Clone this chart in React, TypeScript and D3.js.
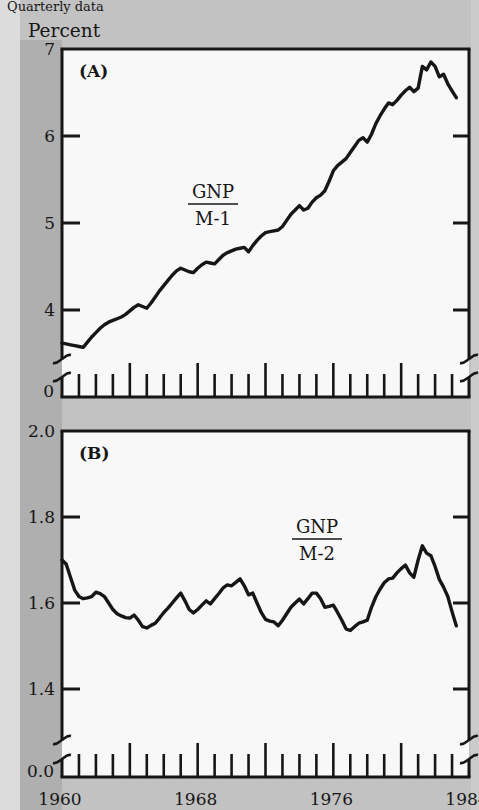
import React, { useEffect, useRef } from 'react';
import * as d3 from 'd3';

const width = 479;
const height = 810;

// quarterly observations, first one is 1960 Q1
const startYear = 1960;
const yearLabels = [1960, 1968, 1976, 1984];
const m1Ticks = [4, 5, 6, 7];
const m2Ticks = [1.4, 1.6, 1.8, 2.0];

// GNP / M-1
const m1Ratio = [
  3.62, 3.61, 3.60, 3.59,
  3.58, 3.57, 3.63, 3.69,
  3.74, 3.79, 3.83, 3.86,
  3.88, 3.90, 3.92, 3.95,
  3.99, 4.03, 4.06, 4.04,
  4.02, 4.08, 4.15, 4.22,
  4.28, 4.34, 4.40, 4.45,
  4.48, 4.46, 4.44, 4.43,
  4.48, 4.52, 4.55, 4.54,
  4.53, 4.58, 4.63, 4.66,
  4.68, 4.70, 4.71, 4.72,
  4.67, 4.74, 4.80, 4.85,
  4.89, 4.90, 4.91, 4.92,
  4.96, 5.03, 5.10, 5.15,
  5.20, 5.15, 5.17, 5.24,
  5.29, 5.32, 5.37, 5.48,
  5.60, 5.66, 5.70, 5.74,
  5.81, 5.88, 5.95, 5.98,
  5.93, 6.02, 6.14, 6.23,
  6.31, 6.38, 6.36, 6.41,
  6.47, 6.52, 6.56, 6.51,
  6.55, 6.80, 6.76, 6.85,
  6.80, 6.68, 6.71, 6.60,
  6.52, 6.44,
];

// GNP / M-2
const m2Ratio = [
  1.700, 1.690, 1.660, 1.630,
  1.615, 1.610, 1.612, 1.615,
  1.625, 1.622, 1.615, 1.600,
  1.585, 1.575, 1.570, 1.566,
  1.565, 1.572, 1.560, 1.545,
  1.542, 1.548, 1.553, 1.565,
  1.578, 1.588, 1.600, 1.612,
  1.623, 1.605, 1.585, 1.577,
  1.585, 1.595, 1.605, 1.598,
  1.610, 1.622, 1.635, 1.642,
  1.640, 1.648, 1.656, 1.640,
  1.619, 1.623, 1.600, 1.578,
  1.562, 1.558, 1.556, 1.547,
  1.560, 1.575, 1.590, 1.600,
  1.609, 1.598, 1.610, 1.623,
  1.623, 1.610, 1.590, 1.592,
  1.595, 1.578, 1.560, 1.540,
  1.536, 1.545, 1.553, 1.556,
  1.560, 1.590, 1.614, 1.632,
  1.647, 1.656, 1.658, 1.670,
  1.680, 1.688, 1.670, 1.660,
  1.700, 1.733, 1.716, 1.710,
  1.685, 1.655, 1.637, 1.615,
  1.580, 1.547,
];

const font = '"DejaVu Serif", serif';
const ink = '#161616';
const left = 62;
const right = 469;

export default function App() {
  const ref = useRef<SVGSVGElement>(null);

  useEffect(() => {
    const svg = d3.select(ref.current);
    svg.selectAll('*').remove();

    // scanned page background
    svg.append('rect').attr('width', width).attr('height', height).attr('fill', '#c2c2c2');
    svg.append('rect').attr('x', 0).attr('y', 0).attr('width', 20).attr('height', height).attr('fill', '#dcdcdc');
    svg.append('rect').attr('x', 20).attr('y', 40).attr('width', left - 20).attr('height', height - 40).attr('fill', '#afafaf');
    svg.append('rect').attr('x', right + 2).attr('y', 0).attr('width', width - right).attr('height', height).attr('fill', '#cbcbcb');

    // heading at the very top of the page
    svg.append('text')
      .attr('x', 7).attr('y', 11)
      .attr('font-family', font).attr('font-size', 13).attr('fill', ink)
      .text('Quarterly data');

    svg.append('text')
      .attr('x', 28).attr('y', 37)
      .attr('font-family', font).attr('font-size', 18.5).attr('fill', ink)
      .text('Percent');

    const xScale = d3.scaleLinear().domain([1960, 1984]).range([left, right]);

    const yA = d3.scaleLinear().domain([4, 7]).range([310, 49]);
    const yB = d3.scaleLinear().domain([1.4, 2.0]).range([689, 431]);

    const panels = [
      { top: 49, breakTop: 359, breakBot: 377, bottom: 397, y: yA, ticks: m1Ticks, fmt: d3.format('d'), zero: '0',
        tag: '(A)', values: m1Ratio, fracX: 213, fracY: 204, denom: 'M-1' },
      { top: 431, breakTop: 740, breakBot: 759, bottom: 777, y: yB, ticks: m2Ticks, fmt: d3.format('.1f'), zero: '0.0',
        tag: '(B)', values: m2Ratio, fracX: 317, fracY: 539, denom: 'M-2' },
    ];

    panels.forEach(p => {
      const g = svg.append('g');

      g.append('rect')
        .attr('x', left).attr('y', p.top)
        .attr('width', right - left).attr('height', p.bottom - p.top)
        .attr('fill', '#f8f8f8');

      const frame = g.append('g').attr('stroke', ink).attr('stroke-width', 3).attr('fill', 'none');
      frame.append('line').attr('x1', left - 1.5).attr('x2', right + 1.5).attr('y1', p.top).attr('y2', p.top);
      frame.append('line').attr('x1', left - 1.5).attr('x2', right + 1.5).attr('y1', p.bottom).attr('y2', p.bottom);
      [left, right].forEach(x => {
        frame.append('line').attr('x1', x).attr('x2', x).attr('y1', p.top).attr('y2', p.breakTop);
        frame.append('line').attr('x1', x).attr('x2', x).attr('y1', p.breakBot).attr('y2', p.bottom);
        // axis break marks
        [p.breakTop, p.breakBot].forEach(by => {
          frame.append('path')
            .attr('stroke-width', 2.6)
            .attr('d', `M${x - 9},${by + 4} C${x - 5},${by + 5} ${x - 3},${by + 2} ${x},${by} C${x + 3},${by - 2} ${x + 5},${by - 5} ${x + 9},${by - 4}`);
        });
      });

      // value ticks on both sides
      p.ticks.slice(0, -1).forEach(t => {
        frame.append('line').attr('x1', left).attr('x2', left + 18).attr('y1', p.y(t)).attr('y2', p.y(t));
        frame.append('line').attr('x1', right - 16).attr('x2', right).attr('y1', p.y(t)).attr('y2', p.y(t));
      });

      // yearly ticks, taller every fourth year
      d3.range(1961, 1984).forEach(yr => {
        const len = yr % 4 === 0 ? 34 : 23;
        frame.append('line')
          .attr('stroke-width', 2.6)
          .attr('x1', xScale(yr)).attr('x2', xScale(yr))
          .attr('y1', p.bottom).attr('y2', p.bottom - len);
      });

      const labels = g.append('g')
        .attr('font-family', font).attr('font-size', 17).attr('fill', ink)
        .attr('text-anchor', 'end');
      p.ticks.forEach(t => {
        labels.append('text').attr('x', 55).attr('y', p.y(t)).attr('dy', '0.36em').text(p.fmt(t));
      });
      labels.append('text').attr('x', 54).attr('y', p.bottom - 6).attr('dy', '0.36em').text(p.zero);

      g.append('text')
        .attr('x', 79).attr('y', p.top + 28)
        .attr('font-family', font).attr('font-size', 17).attr('font-weight', 'bold').attr('fill', ink)
        .text(p.tag);

      // GNP over M-x fraction label
      const frac = g.append('g').attr('font-family', font).attr('font-size', 18).attr('fill', ink).attr('text-anchor', 'middle');
      frac.append('text').attr('x', p.fracX).attr('y', p.fracY - 6).text('GNP');
      frac.append('line')
        .attr('x1', p.fracX - 25).attr('x2', p.fracX + 25)
        .attr('y1', p.fracY).attr('y2', p.fracY)
        .attr('stroke', ink).attr('stroke-width', 1.4);
      frac.append('text').attr('x', p.fracX).attr('y', p.fracY + 21).text(p.denom);

      const line = d3.line<number>()
        .x((d, i) => xScale(startYear + i / 4))
        .y(d => p.y(d));

      g.append('path')
        .datum(p.values)
        .attr('d', line)
        .attr('fill', 'none')
        .attr('stroke', ink)
        .attr('stroke-width', 3.4)
        .attr('stroke-linejoin', 'round')
        .attr('stroke-linecap', 'round');
    });

    // year labels under the lower panel
    const years = svg.append('g')
      .attr('font-family', font).attr('font-size', 17).attr('fill', ink)
      .attr('text-anchor', 'middle');
    yearLabels.forEach(yr => {
      years.append('text').attr('x', xScale(yr) - 2).attr('y', 805).text(yr);
    });
  }, []);

  return <svg ref={ref} width={width} height={height}
    style={{ position: 'absolute', left: 0, top: 0, display: 'block' }} />;
}
